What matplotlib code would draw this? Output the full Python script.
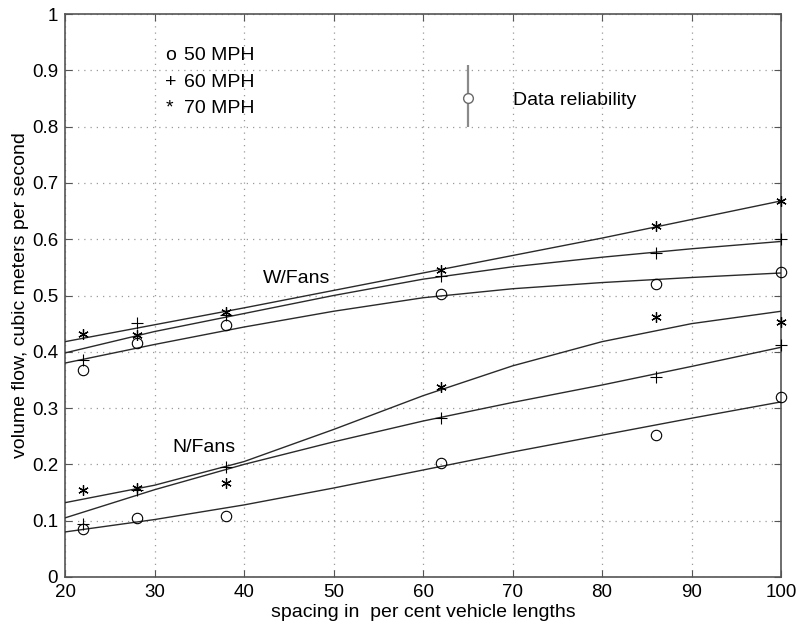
import numpy as np
import matplotlib
matplotlib.use('Agg')
import matplotlib.pyplot as plt

plt.rcParams['font.family'] = ['Liberation Sans', 'DejaVu Sans']

# measured points (spacing in per cent vehicle lengths)
spacing = [22, 28, 38, 62, 86, 100]

w_50 = [0.367, 0.416, 0.448, 0.503, 0.520, 0.542]
w_60 = [0.385, 0.451, 0.465, 0.535, 0.576, 0.600]
w_70 = [0.431, 0.430, 0.471, 0.545, 0.623, 0.668]

n_50 = [0.085, 0.105, 0.108, 0.202, 0.252, 0.320]
n_60 = [0.095, 0.155, 0.196, 0.282, 0.356, 0.412]
n_70 = [0.155, 0.158, 0.167, 0.338, 0.462, 0.453]

# fitted curves
fit_x = [20, 30, 40, 50, 60, 70, 80, 90, 100]
fit_w_50 = [0.380, 0.413, 0.444, 0.472, 0.496, 0.512, 0.523, 0.532, 0.540]
fit_w_60 = [0.398, 0.436, 0.468, 0.500, 0.529, 0.551, 0.568, 0.583, 0.596]
fit_w_70 = [0.418, 0.448, 0.478, 0.509, 0.540, 0.571, 0.602, 0.635, 0.668]
fit_n_50 = [0.080, 0.102, 0.128, 0.158, 0.190, 0.222, 0.252, 0.282, 0.311]
fit_n_60 = [0.105, 0.155, 0.200, 0.240, 0.277, 0.310, 0.341, 0.374, 0.408]
fit_n_70 = [0.132, 0.163, 0.205, 0.262, 0.322, 0.375, 0.418, 0.450, 0.472]

legend_sym = ['o', '+', '*']
legend_txt = ['50 MPH', '60 MPH', '70 MPH']
legend_y = [0.927, 0.879, 0.833]

xticks = [20, 30, 40, 50, 60, 70, 80, 90, 100]
yticks = [0, 0.1, 0.2, 0.3, 0.4, 0.5, 0.6, 0.7, 0.8, 0.9, 1]
ytick_labels = ['0', '0.1', '0.2', '0.3', '0.4', '0.5', '0.6', '0.7', '0.8', '0.9', '1']

fig = plt.figure(figsize=(7.98, 6.29), dpi=100)
ax = fig.add_axes([0.0815, 0.0827, 0.8972, 0.895])

lc = '#2a2a2a'
for fy in [fit_w_50, fit_w_60, fit_w_70, fit_n_50, fit_n_60, fit_n_70]:
    ax.plot(fit_x, fy, color=lc, linewidth=1.0, zorder=3)

star = (6, 2, 0)
mk = dict(linestyle='none', color='k', markerfacecolor='none', zorder=4, clip_on=False)
ax.plot(spacing, w_50, marker='o', markersize=7.5, markeredgewidth=0.8, **mk)
ax.plot(spacing, n_50, marker='o', markersize=7.5, markeredgewidth=0.8, **mk)
ax.plot(spacing, w_60, marker='+', markersize=8, markeredgewidth=0.8, **mk)
ax.plot(spacing, n_60, marker='+', markersize=8, markeredgewidth=0.8, **mk)
ax.plot(spacing, w_70, marker=star, markersize=7.5, markeredgewidth=0.9, **mk)
ax.plot(spacing, n_70, marker=star, markersize=7.5, markeredgewidth=0.9, **mk)

# data reliability bar
ax.errorbar([65], [0.85], yerr=[[0.05], [0.06]], fmt='o', color='#8a8a8a',
            markerfacecolor='white', markeredgecolor='#6a6a6a', markersize=7,
            elinewidth=1.6, capsize=0, zorder=4)
ax.text(70.05, 0.847, 'Data reliability', fontsize=14, va='center', ha='left')

# legend drawn as text
for sym, txt, yy in zip(legend_sym, legend_txt, legend_y):
    ax.text(31.2, yy, sym, fontsize=14, va='center', ha='left')
    ax.text(33.3, yy, txt, fontsize=14, va='center', ha='left')

ax.text(42.1, 0.530, 'W/Fans', fontsize=14, va='center', ha='left')
ax.text(32.0, 0.230, 'N/Fans', fontsize=14, va='center', ha='left')

ax.set_xlim(20, 100)
ax.set_ylim(0, 1)
ax.set_xticks(xticks)
ax.set_yticks(yticks)
ax.set_yticklabels(ytick_labels)
ax.grid(True, linestyle=(0, (1, 4)), color='#9a9a9a', linewidth=0.9)
ax.tick_params(direction='in', length=5, top=True, right=True, labelsize=13.5,
               color='#555555', pad=5)
for s in ax.spines.values():
    s.set_color('#555555')
    s.set_linewidth(1.2)

ax.set_xlabel('spacing in  per cent vehicle lengths', fontsize=14, labelpad=2)
ax.set_ylabel('volume flow, cubic meters per second', fontsize=14, labelpad=2)

plt.savefig('out.png', dpi=100)
